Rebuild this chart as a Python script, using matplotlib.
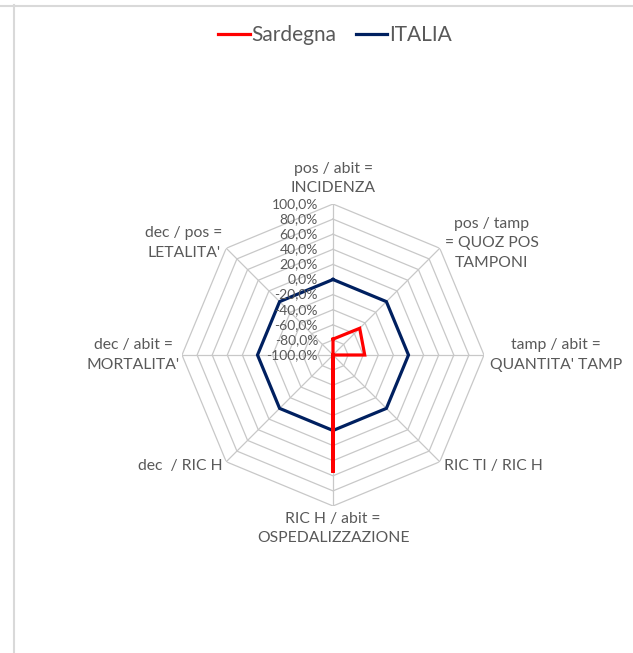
import numpy as np
import matplotlib
matplotlib.use('Agg')
import matplotlib.pyplot as plt
from matplotlib.lines import Line2D
from matplotlib.transforms import ScaledTranslation

plt.rcParams['font.family'] = ['Lato', 'DejaVu Sans']

categories = ["pos / abit =\nINCIDENZA",
              "pos / tamp\n= QUOZ POS\nTAMPONI",
              "tamp / abit =\nQUANTITA' TAMP",
              "RIC TI / RIC H",
              "RIC H / abit =\nOSPEDALIZZAZIONE",
              "dec  / RIC H",
              "dec / abit =\nMORTALITA'",
              "dec / pos =\nLETALITA'"]
sardegna = [-79, -50, -58, -100, 56, -100, -100, -100]
italia = [0, 0, 0, 0, 0, 0, 0, 0]
ticks = [-100, -80, -60, -40, -20, 0, 20, 40, 60, 80, 100]
tick_labels = ['-100,0%', '-80,0%', '-60,0%', '-40,0%', '-20,0%', '0,0%',
               '20,0%', '40,0%', '60,0%', '80,0%', '100,0%']

text_col = '#595959'
grid_col = '#c8c8c8'

W, H = 633, 653
fig = plt.figure(figsize=(W / 100, H / 100), dpi=100)
cx, cy, R = 333, 355, 151
ax = fig.add_axes([(cx - R) / W, (H - cy - R) / H, 2 * R / W, 2 * R / H], projection='polar')
ax.set_theta_zero_location('N')
ax.set_theta_direction(-1)
ax.set_ylim(-100, 100)
ax.grid(False)
ax.set_xticks([])
ax.set_yticks([])
ax.spines['polar'].set_visible(False)
ax.patch.set_alpha(0)

n = len(categories)
theta = np.arange(n) * 2 * np.pi / n
theta_c = np.append(theta, theta[0])

# polygonal grid rings and spokes
for lev in ticks[1:]:
    ax.plot(theta_c, [lev] * (n + 1), color=grid_col, lw=0.9, zorder=1)
for t in theta:
    ax.plot([t, t], [-100, 100], color=grid_col, lw=0.9, zorder=1)

ax.plot(theta_c, np.append(sardegna, sardegna[0]), color='#ff0000', lw=2.3,
        solid_joinstyle='miter', zorder=3, label='Sardegna')
ax.plot(theta_c, np.append(italia, italia[0]), color='#002060', lw=2.3,
        solid_joinstyle='miter', zorder=2, label='ITALIA')

# value labels along the first spoke
tick_tr = ax.transData + ScaledTranslation(-0.15, 0, fig.dpi_scale_trans)
for lev, lab in zip(ticks, tick_labels):
    ax.text(0, lev, lab, ha='right', va='center', fontsize=10, color=text_col,
            transform=tick_tr, zorder=4)

# category labels around the outside
place = [('center', 'bottom', 0, 9),
         ('left', 'center', 5, 5),
         ('left', 'center', 6, 0),
         ('left', 'center', 4, -4),
         ('center', 'top', 0, -6),
         ('right', 'center', -4, -4),
         ('right', 'center', -2, 0),
         ('right', 'center', -4, 5)]
for t, lab, (ha, va, dx, dy) in zip(theta, categories, place):
    tr = ax.transData + ScaledTranslation(dx / 100, dy / 100, fig.dpi_scale_trans)
    ax.text(t, 100, lab, ha=ha, va=va, multialignment='center', fontsize=11.3,
            color=text_col, linespacing=1.5, transform=tr)

fig.legend(loc='center', bbox_to_anchor=(335 / W, 1 - 35 / H), ncol=2, frameon=False,
           fontsize=15, labelcolor=text_col, handlelength=1.5, handletextpad=0.1,
           columnspacing=0.9)

# chart frame edges
fig.add_artist(Line2D([13.5 / W, 13.5 / W], [0, 1 - 5 / H], transform=fig.transFigure,
                      color='#d9d9d9', lw=1.5))
fig.add_artist(Line2D([0, 1], [1 - 5.5 / H, 1 - 5.5 / H], transform=fig.transFigure,
                      color='#d9d9d9', lw=1.5))

fig.savefig('out.png', dpi=100)
